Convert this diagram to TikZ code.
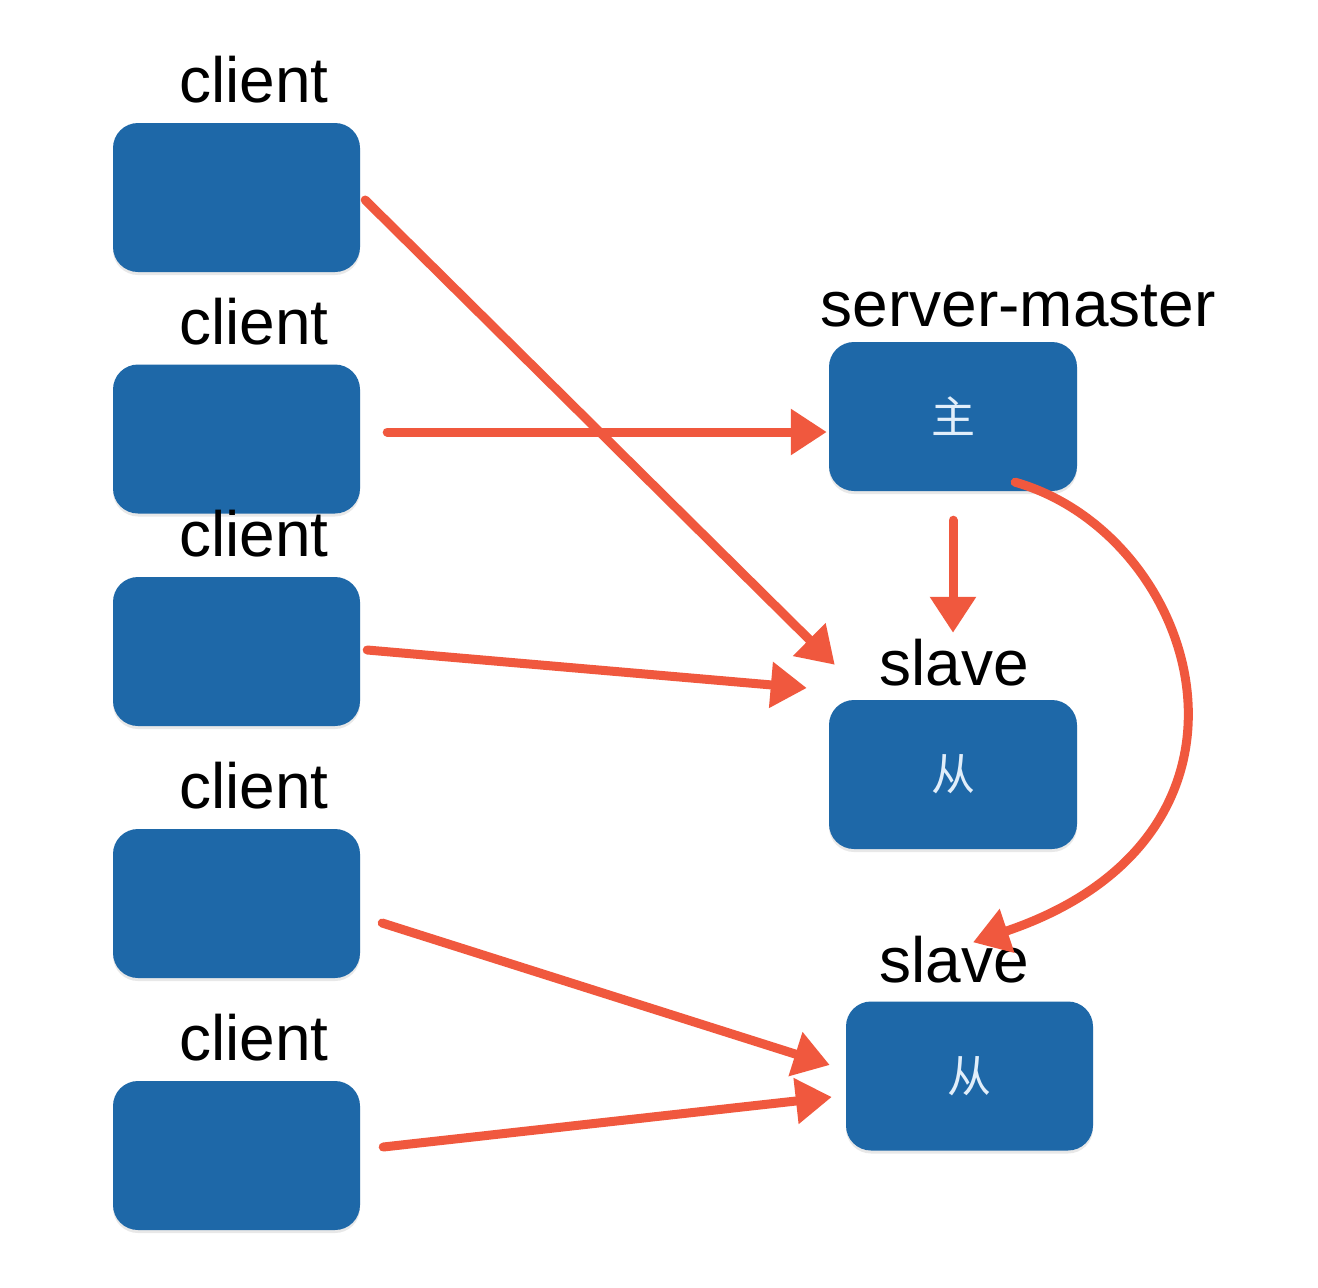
\documentclass[tikz,border=0pt]{standalone}
\usepackage{fontspec}
\setmainfont{Liberation Sans}
\newfontfamily\cjk{Noto Sans CJK SC}
\usetikzlibrary{arrows.meta,calc,shadows}
\definecolor{boxblue}{RGB}{30,104,168}
\definecolor{arrowred}{RGB}{240,88,62}
\definecolor{charwhite}{RGB}{225,238,250}
\tikzset{
  box/.style={draw=none, fill=boxblue, rounded corners=25pt, minimum width=247pt, minimum height=149pt, inner sep=0pt,
    drop shadow={opacity=0.18, shadow xshift=0pt, shadow yshift=-3pt}},
  lbl/.style={anchor=base, inner sep=0pt, font=\fontsize{64}{70}\selectfont},
  chr/.style={text=charwhite, font=\cjk\fontsize{44}{48}\selectfont},
  arr/.style={draw=arrowred, line width=9pt, line cap=round, -{Triangle[length=36pt,width=44pt]}}
}
\begin{document}
\begin{tikzpicture}[x=1pt,y=-1pt]
\useasboundingbox[fill=white] (0,0) rectangle (1318,1288);
% client boxes
\node[box] (c1) at (236.5,197.5) {};
\node[box] (c2) at (236.5,439) {};
\node[box] (c3) at (236.5,651.5) {};
\node[box] (c4) at (236.5,903.5) {};
\node[box] (c5) at (236.5,1155.5) {};
% server boxes
\node[box, minimum width=248pt] (m) at (953,416.5) {};
\node[box, minimum width=248pt] (s1) at (953,774.5) {};
\node[box] (s2) at (969.5,1076) {};
\node[chr] (mt) at (m.center) {主};
\node[chr] (s1t) at (s1.center) {从};
\node[chr] (s2t) at (s2.center) {从};
% labels
\node[lbl] (l1) at ($(c1.north)+(17.5,-20)$) {client};
\node[lbl] (l2) at ($(c2.north)+(17.5,-20)$) {client};
\node[lbl] (l3) at ($(c3.north)+(17.5,-20)$) {client};
\node[lbl] (l4) at ($(c4.north)+(17.5,-20)$) {client};
\node[lbl] (l5) at ($(c5.north)+(17.5,-20)$) {client};
\node[lbl] (lm) at ($(m.north)+(65,-15)$) {server-master};
\node[lbl] (ls1) at ($(s1.north)+(1,-14)$) {slave};
\node[lbl] (ls2) at ($(s2.north)+(-15.5,-19)$) {slave};
% arrows
\draw[arr] ($(c2.east)+(27,-7)$) -- ($(m.west)+(-2,15.5)$);
\draw[arr] ($(c1.east)+(5,2.5)$) -- ($(s1.north west)+(6,-35)$);
\draw[arr] ($(c3.east)+(7,-1.5)$) -- ($(s1.west)+(-22,-86.5)$);
\draw[arr] ($(c4.east)+(22,19.5)$) -- ($(s2.west)+(-16,-11)$);
\draw[arr] ($(c5.east)+(23,-8.5)$) -- ($(s2.west)+(-14,21)$);
\draw[arr] ($(m.south)+(0,29)$) -- ($(s1.north)+(0,-67)$);
\draw[arr] ($(m.south east)+(-62,-9)$) .. controls (1200,535) and (1292,835) .. ($(s2.north)+(3.5,-59)$);
\end{tikzpicture}
\end{document}
